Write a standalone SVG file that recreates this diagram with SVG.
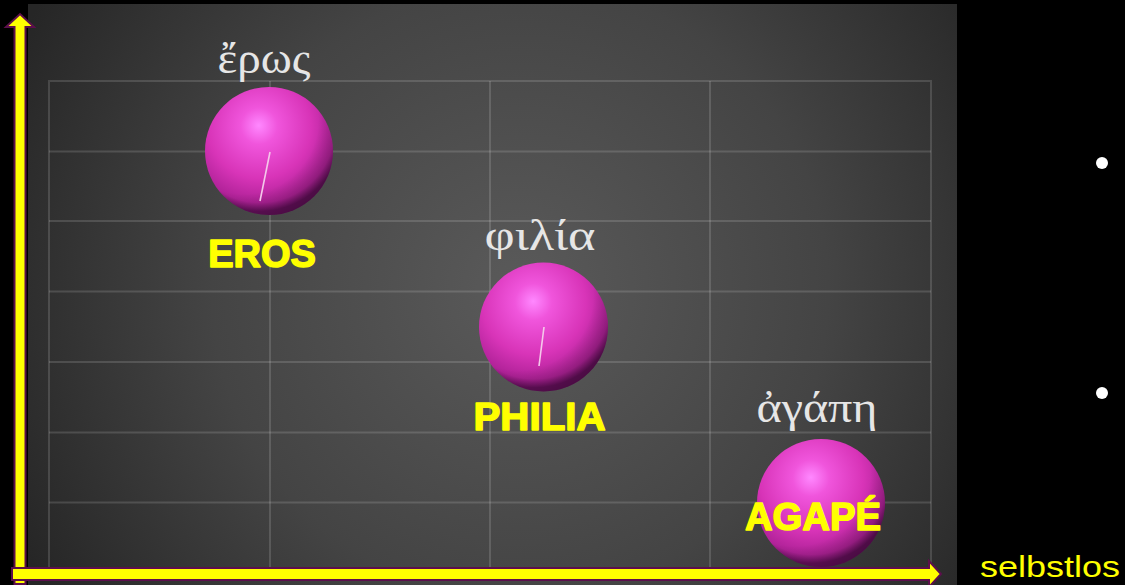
<svg xmlns="http://www.w3.org/2000/svg" width="1125" height="585" viewBox="0 0 1125 585">
  <defs>
    <radialGradient id="panelGrad" gradientUnits="userSpaceOnUse" cx="520" cy="290" r="560">
      <stop offset="0" stop-color="#5a5a5a"/>
      <stop offset="0.55" stop-color="#444444"/>
      <stop offset="1" stop-color="#262626"/>
    </radialGradient>
    <radialGradient id="sphereGrad" cx="0.43" cy="0.32" r="0.65" fx="0.42" fy="0.3">
      <stop offset="0" stop-color="#ff88ff"/>
      <stop offset="0.22" stop-color="#f055dc"/>
      <stop offset="0.62" stop-color="#d834b8"/>
      <stop offset="0.9" stop-color="#b02298"/>
      <stop offset="1" stop-color="#6a1060"/>
    </radialGradient>
    <radialGradient id="sphereShade" cx="0.3" cy="0.25" r="0.9">
      <stop offset="0.65" stop-color="#000" stop-opacity="0"/>
      <stop offset="1" stop-color="#000" stop-opacity="0.4"/>
    </radialGradient>
    <style>
      .grid { stroke: #ffffff; stroke-opacity: 0.14; stroke-width: 2; fill: none; }
      .greek { font-family: "Liberation Serif", "DejaVu Serif", serif; font-size: 44px; fill: #e6e6e6; text-anchor: middle; }
      .name { font-family: "Liberation Sans", "DejaVu Sans", sans-serif; font-weight: bold; font-size: 38px; fill: #ffff00; stroke: #ffff00; stroke-width: 1.5; stroke-linejoin: round; text-anchor: middle; }
      .axis { fill: #ffff00; stroke: #5c0f4c; stroke-width: 2; stroke-linejoin: miter; }
      .glint { stroke: #f4c8ea; stroke-width: 1.6; }
    </style>
  </defs>

  <rect x="0" y="0" width="1125" height="585" fill="#000000"/>

  <g id="panel">
    <rect x="28" y="4" width="929" height="581" fill="url(#panelGrad)"/>
    <g class="grid">
      <rect x="49" y="81" width="882" height="495"/>
      <line x1="49" y1="151.5" x2="931" y2="151.5"/>
      <line x1="49" y1="221" x2="931" y2="221"/>
      <line x1="49" y1="291.5" x2="931" y2="291.5"/>
      <line x1="49" y1="362" x2="931" y2="362"/>
      <line x1="49" y1="432.5" x2="931" y2="432.5"/>
      <line x1="49" y1="502.5" x2="931" y2="502.5"/>
      <line x1="270" y1="81" x2="270" y2="576"/>
      <line x1="490" y1="81" x2="490" y2="576"/>
      <line x1="710" y1="81" x2="710" y2="576"/>
    </g>
  </g>

  <g id="bullets" fill="#ffffff">
    <circle cx="1102" cy="163" r="6"/>
    <circle cx="1102" cy="393" r="6"/>
  </g>

  <g id="eros">
    <circle cx="269" cy="151" r="64" fill="url(#sphereGrad)"/>
    <circle cx="269" cy="151" r="64" fill="url(#sphereShade)"/>
    <line class="glint" x1="270" y1="152" x2="260" y2="201"/>
    <text class="greek" x="264" y="73" textLength="93" lengthAdjust="spacingAndGlyphs">ἔρως</text>
    <text class="name" x="262" y="267">EROS</text>
  </g>

  <g id="philia">
    <circle cx="543.5" cy="327" r="64.5" fill="url(#sphereGrad)"/>
    <circle cx="543.5" cy="327" r="64.5" fill="url(#sphereShade)"/>
    <line class="glint" x1="544" y1="327" x2="539" y2="366"/>
    <text class="greek" x="540" y="250" textLength="111" lengthAdjust="spacingAndGlyphs">φιλία</text>
    <text class="name" x="539.5" y="430" textLength="132" lengthAdjust="spacingAndGlyphs">PHILIA</text>
  </g>

  <g id="agape">
    <circle cx="821" cy="503" r="64" fill="url(#sphereGrad)"/>
    <circle cx="821" cy="503" r="64" fill="url(#sphereShade)"/>
    <text class="greek" x="817" y="422" textLength="121" lengthAdjust="spacingAndGlyphs">ἀγάπη</text>
    <text class="name" x="813" y="530" textLength="136" lengthAdjust="spacingAndGlyphs">AGAPÉ</text>
  </g>

  <g id="connectors">
    <polygon class="axis" points="14.5,584 14.5,27 6,27 20,14 34,27 25.5,27 25.5,584"/>
    <polygon class="axis" points="12,568 929,568 929,561 941,574 929,587 929,580 12,580"/>
  </g>

  <g id="x-label">
    <text x="980" y="577" font-family="'Liberation Sans', 'DejaVu Sans', sans-serif" font-size="29" fill="#ffff00" textLength="140" lengthAdjust="spacingAndGlyphs">selbstlos</text>
  </g>
</svg>
